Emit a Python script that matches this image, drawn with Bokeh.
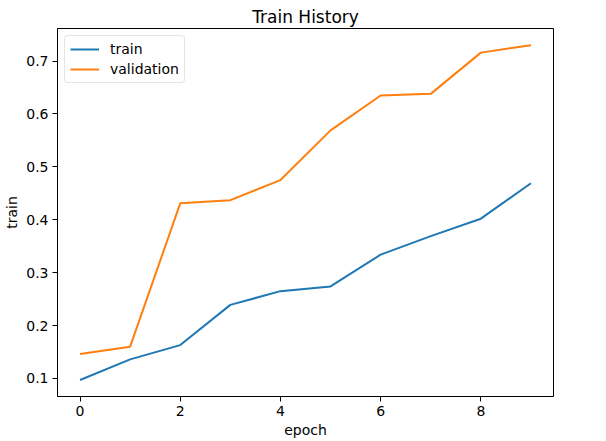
from bokeh.plotting import figure
from bokeh.models import Range1d, FixedTicker, Legend, LegendItem
from bokeh.embed import file_html
from bokeh.resources import INLINE

epochs = [0, 1, 2, 3, 4, 5, 6, 7, 8, 9]
train = [0.097, 0.136, 0.163, 0.239, 0.265, 0.274, 0.334, 0.369, 0.402, 0.469]
validation = [0.146, 0.160, 0.431, 0.437, 0.475, 0.569, 0.635, 0.638, 0.716, 0.730]
x_ticks = [0, 2, 4, 6, 8]
y_ticks = [0.1, 0.2, 0.3, 0.4, 0.5, 0.6, 0.7]

FONT = "DejaVu Sans"

p = figure(width=606, height=441, output_backend="svg", toolbar_location=None,
           title="Train History",
           x_range=Range1d(-0.45, 9.45), y_range=Range1d(0.0658, 0.7616),
           min_border_left=57, min_border_right=53, min_border_top=28, min_border_bottom=45)

p.title.align = "center"
p.title.text_font = FONT
p.title.text_font_size = "17px"
p.title.text_font_style = "normal"
p.title.text_color = "black"
p.title.standoff = 4

p.xgrid.visible = False
p.ygrid.visible = False
p.outline_line_color = "black"
p.outline_line_width = 1
p.outline_line_alpha = 1

for ax, ticks, lab in ((p.xaxis, x_ticks, "epoch"), (p.yaxis, y_ticks, "train")):
    ax.ticker = FixedTicker(ticks=ticks)
    ax.axis_label = lab
    ax.axis_label_text_font = FONT
    ax.axis_label_text_font_size = "14px"
    ax.axis_label_text_font_style = "normal"
    ax.axis_label_text_color = "black"
    ax.major_label_text_font = FONT
    ax.major_label_text_font_size = "14px"
    ax.major_label_text_color = "black"
    ax.major_tick_out = 5
    ax.major_tick_in = 0
    ax.minor_tick_out = 0
    ax.minor_tick_in = 0
    ax.major_label_standoff = 4
    ax.axis_label_standoff = 3
    ax.axis_line_color = "black"
    ax.major_tick_line_color = "black"

r1 = p.line(epochs, train, line_color="#1f77b4", line_width=2)
r2 = p.line(epochs, validation, line_color="#ff7f0e", line_width=2)

legend = Legend(items=[LegendItem(label="train", renderers=[r1]),
                       LegendItem(label="validation", renderers=[r2])],
                location="top_left")
legend.margin = 7
legend.padding = 5
legend.spacing = 4
legend.glyph_width = 29
legend.glyph_height = 16
legend.label_height = 16
legend.label_standoff = 11
legend.label_text_font = FONT
legend.label_text_font_size = "14px"
legend.label_text_color = "black"
legend.border_line_color = "#cccccc"
legend.border_line_width = 1
legend.border_radius = 4
legend.background_fill_alpha = 0.8
p.add_layout(legend)

open("out.html", "w").write(file_html(p, INLINE))
